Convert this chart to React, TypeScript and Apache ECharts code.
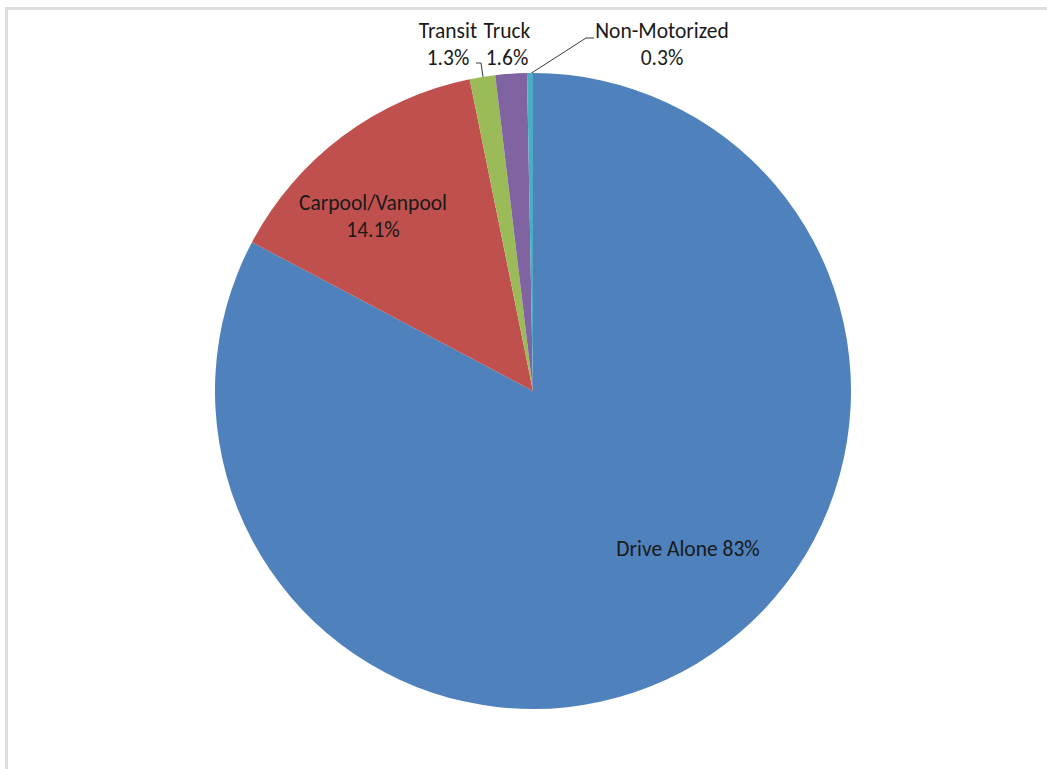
import React, { useEffect, useRef } from "react";
import * as echarts from "echarts";

const categories = ["Drive Alone", "Carpool/Vanpool", "Transit", "Truck", "Non-Motorized"];
const values = [83, 14.1, 1.3, 1.6, 0.3];
const valueLabels = ["83%", "14.1%", "1.3%", "1.6%", "0.3%"];
const colors = ["#4F81BD", "#C0504D", "#9BBB59", "#8064A2", "#4BACC6"];

// label anchor positions (layout only)
const labelPos: [number, number][] = [
  [688, 549],
  [373, 216],
  [448, 44],
  [507, 44],
  [662, 44],
];
const leaderLines: (number[][] | null)[] = [
  null,
  null,
  [[483, 77], [481, 63], [476, 63]],
  null,
  [[530, 74], [586, 38], [594, 38]],
];

export default function App() {
  const ref = useRef<HTMLDivElement>(null);
  useEffect(() => {
    if (!ref.current) return;
    const chart = echarts.init(ref.current, undefined, { renderer: "svg" });
    const font = "Carlito, 'Liberation Sans Narrow', 'Open Sans', sans-serif";
    chart.setOption({
      animation: false,
      backgroundColor: "#ffffff",
      graphic: [
        { type: "rect", shape: { x: 5, y: 7, width: 1042, height: 3 }, style: { fill: "#dddddd" } },
        { type: "rect", shape: { x: 5, y: 7, width: 3, height: 762 }, style: { fill: "#dddddd" } },
      ],
      series: [
        {
          type: "pie",
          center: [533, 391],
          radius: [0, 318],
          startAngle: 90,
          clockwise: true,
          avoidLabelOverlap: false,
          itemStyle: { borderWidth: 0 },
          label: {
            show: true,
            position: "outside",
            color: "#1a1a1a",
            fontFamily: font,
            fontSize: 21.5,
            lineHeight: 27,
            align: "center",
          },
          labelLine: { show: false, lineStyle: { color: "#3a3a3a", width: 1 } },
          labelLayout: (p: any) => {
            const i = p.dataIndex;
            const res: any = {
              x: labelPos[i][0],
              y: labelPos[i][1],
              align: "center",
              verticalAlign: "middle",
            };
            if (leaderLines[i]) res.labelLinePoints = leaderLines[i];
            return res;
          },
          data: categories.map((c, i) => ({
            name: c,
            value: values[i],
            itemStyle: { color: colors[i] },
            label: {
              formatter: i === 0 ? `${c} ${valueLabels[i]}` : `${c}\n${valueLabels[i]}`,
            },
            labelLine: { show: !!leaderLines[i] },
          })),
        },
      ],
    });
    return () => chart.dispose();
  }, []);
  return (
    <div
      ref={ref}
      style={{ position: "fixed", left: 0, top: 0, width: 1047, height: 769 }}
    />
  );
}
